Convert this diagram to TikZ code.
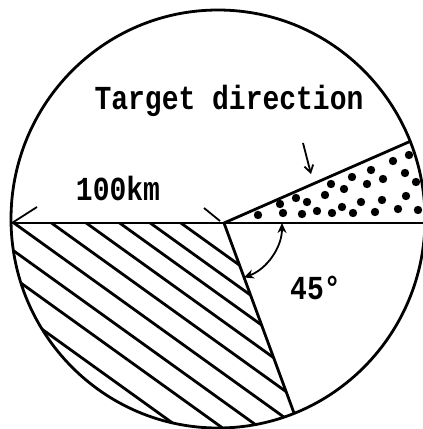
\documentclass[tikz,border=0pt]{standalone}
\usepackage{fontspec}
\setmonofont{Liberation Mono}
\usetikzlibrary{arrows.meta, positioning, calc}

\newcommand{\tall}[1]{\scalebox{1}[1.2]{#1}}

\begin{document}
\begin{tikzpicture}[x=1pt, y=-1pt,
  edge/.style={line width=2.8pt},
  hatch/.style={line width=2.8pt},
  thin edge/.style={line width=1.8pt},
  label/.style={font=\ttfamily\bfseries\fontsize{28}{30}\selectfont,
                inner sep=0pt, anchor=base},
]
  \useasboundingbox (0,0) rectangle (423,429);

  % main points
  \coordinate (C) at (218,219);
  \coordinate (V) at (224,223);
  \coordinate (L) at (12,223);
  \coordinate (R) at (423,223);
  \coordinate (Tend) at (411,141);
  \coordinate (Bend) at (294,413);

  % hatched sector
  \begin{scope}
    \clip (C) ellipse[x radius=207, y radius=209];
    \clip (0,223) -- (V) -- ($(V)!1.2!(Bend)$) -- (0,470) -- cycle;
    \foreach \c in {93,115,137,161,186,213,241,268,299}
      \draw[hatch] (0,\c) -- (320,\c+230);
  \end{scope}

  % dotted sector
  \foreach \p in {(258,215),(280,204),(283,213),(296,198),(302,214),
                  (307,202),(317,211),(325,195),(331,184),(332,213),
                  (342,207),(344,189),(352,177),(353,213),(361,202),
                  (367,184),(371,170),(375,212),(382,200),(383,179),
                  (393,161),(398,209),(405,173),(406,196),(409,155),
                  (416,182),(418,210)}
    \fill \p circle[radius=4.2];

  % outline
  \draw[edge] (C) ellipse[x radius=207, y radius=209];
  \draw[edge] (L) -- (R);
  \draw[edge] (V) -- (Tend);
  \draw[edge] (V) -- (Bend);

  % 100 km marks
  \draw[thin edge] (L) -- (37,207);
  \draw[thin edge] (204,208) -- (220,221);
  \node[label] (dist) at (118,200) {\tall{100km}};

  % target direction
  \node[label] (target) at (229,109) {\tall{Target direction}};
  \draw[thin edge, -{Straight Barb[length=7pt, width=9pt]}] (303,143) -- (311,174);

  % angle
  \draw[thin edge, {Stealth[length=10pt, width=9pt]}-{Stealth[length=10pt, width=9pt]}]
    ($(V)+(58,0)$) arc[start angle=0, end angle=70, radius=58];
  \node[label, anchor=base west] (angle) at (290,299) {\tall{45°}};
\end{tikzpicture}
\end{document}
